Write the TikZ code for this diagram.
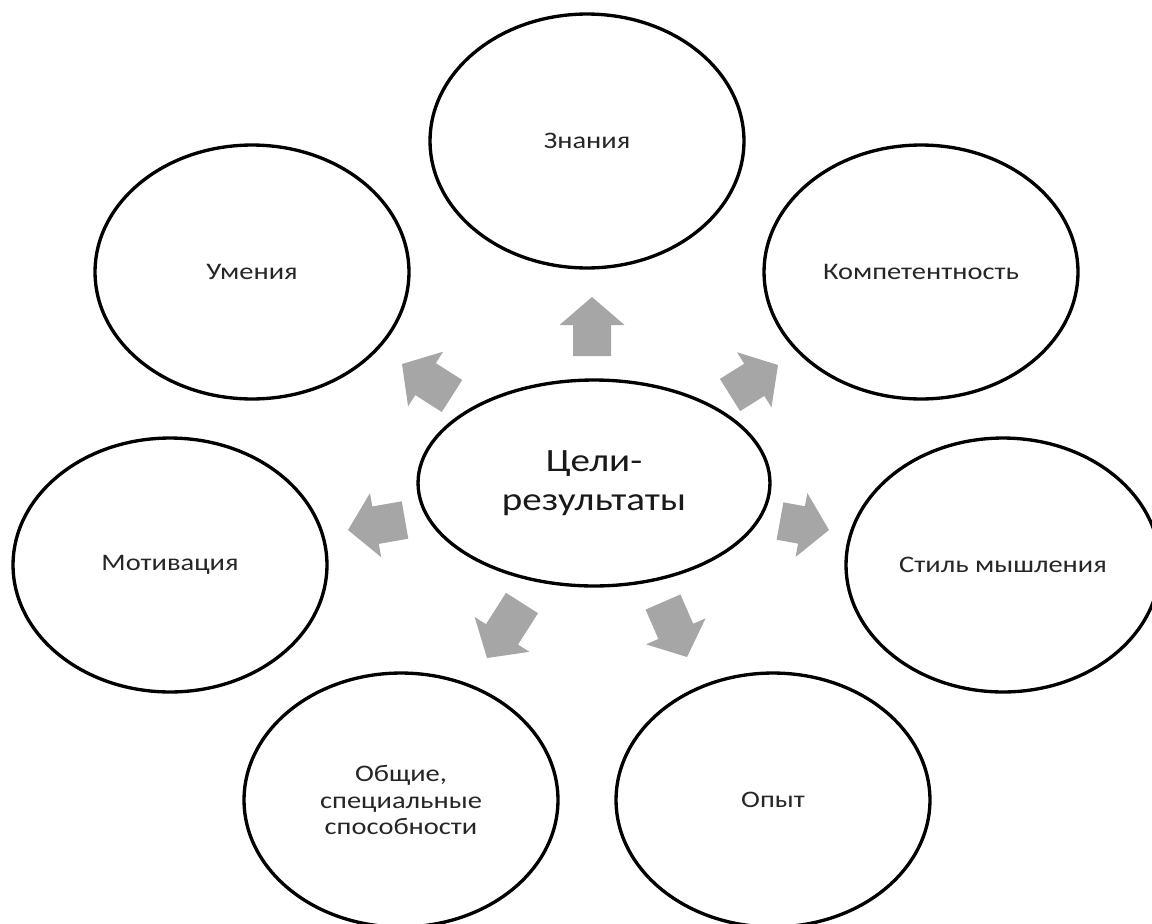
\documentclass[tikz,border=0pt]{standalone}
\usepackage{fontspec}
\setmainfont{Carlito}[FakeStretch=1.2]
\usepackage{tikz}
\usetikzlibrary{shapes.geometric, calc}
\definecolor{arrowgray}{RGB}{166,166,166}

\begin{document}
\begin{tikzpicture}[x=0.02cm, y=-0.02cm]
          \tikzset{ outer/.style={draw=black, ellipse, line width=1.9pt, minimum width=6.28cm, minimum height=5.08cm, inner sep=0pt, align=center, text=black!85, font=\fontsize{13.5}{15}\selectfont} }
          \tikzset{ inner/.style={draw=black, ellipse, line width=1.9pt, minimum width=7.04cm, minimum height=4.12cm, inner sep=0pt, align=center, text=black!90, font=\fontsize{18.5}{22.5}\selectfont} }
          \tikzset{ blk/.style  ={fill=arrowgray, draw=none} }

          \useasboundingbox (0,0) rectangle (1152,923);
          \clip (0,0) rectangle (1152,923);

          \node[inner] (cel)  at (594, 483) {Цели-\\результаты};

          \node[outer] (zn)   at (587, 141) {Знания};
          \node[outer] (um)   at (252, 272) {Умения};
          \node[outer] (komp) at (921, 272) {Компетентность};
          \node[outer] (mot)  at (170, 565) {Мотивация};
          \node[outer] (stil) at (1003, 565) {Стиль мышления};
          \node[outer] (obsh) at (401, 800) {Общие,\\специальные\\способности};
          \node[outer] (opyt) at (773, 800) {Опыт};

          % tails and tips of the block arrows
          \coordinate (zn_s)   at (592, 356);   \coordinate (zn_e)   at (592, 297);
          \coordinate (um_s)   at (452, 396);   \coordinate (um_e)   at (402, 364);
          \coordinate (komp_s) at (730, 395);   \coordinate (komp_e) at (778, 365);
          \coordinate (mot_s)  at (405, 520);   \coordinate (mot_e)  at (348, 530);
          \coordinate (stil_s) at (780, 521);   \coordinate (stil_e) at (829, 530);
          \coordinate (obsh_s) at (522, 603);   \coordinate (obsh_e) at (487, 658);
          \coordinate (opyt_s) at (663, 602);   \coordinate (opyt_e) at (687, 657);

          \foreach \t in {zn, um, komp, mot, stil, obsh, opyt} {
            \coordinate (\t_h) at ($(\t_e)!0.56cm!(\t_s)$);
            \fill[blk] ($(\t_s)!0.38cm!90:(\t_e)$) -- ($(\t_h)!0.38cm!90:(\t_e)$)
                    -- ($(\t_h)!0.65cm!90:(\t_e)$) -- (\t_e)
                    -- ($(\t_h)!0.65cm!-90:(\t_e)$) -- ($(\t_h)!0.38cm!-90:(\t_e)$)
                    -- ($(\t_s)!0.38cm!-90:(\t_e)$) -- cycle;
          }
      \end{tikzpicture}
\end{document}
